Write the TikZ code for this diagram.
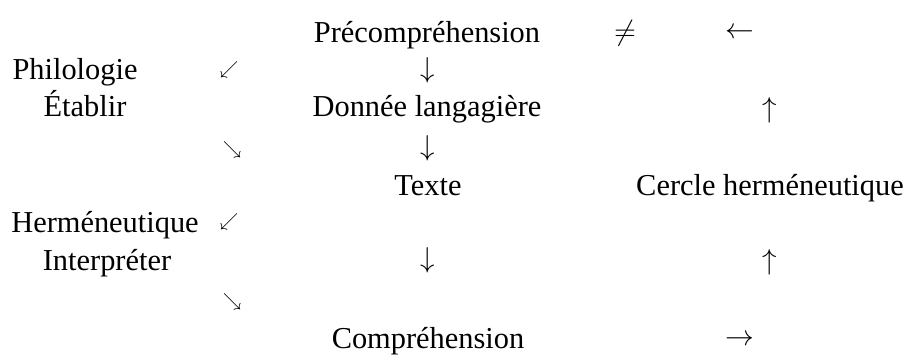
\documentclass[tikz,border=0pt]{standalone}
\usepackage{fontspec}
\setmainfont{Liberation Serif}

\begin{document}
\begin{tikzpicture}[x=0.5pt,y=-0.5pt, every node/.style={inner sep=0pt, font=\fontsize{15.2}{18}\selectfont},
                word/.style = {anchor=base},
                sign/.style = {anchor=center},
                diag/.style = {anchor=center, font=\fontsize{9}{11}\selectfont}]
                \useasboundingbox (0,0) rectangle (904,358);
                % middle column
                \node[word] (1) at (427,43) {Précompréhension};
                \node[sign] (2) at (428,70) {$\downarrow$};
                \node[word] (3) at (427,117) {Donnée langagière};
                \node[sign] (4) at (428,148) {$\downarrow$};
                \node[word] (5) at (428,195) {Texte};
                \node[sign] (6) at (428,260) {$\downarrow$};
                \node[word] (7) at (428,348) {Compréhension};
                % left column
                \node[word] (8) at (75,80) {Philologie};
                \node[word] (9) at (85,117) {Établir};
                \node[word] (10) at (105,232) {Herméneutique};
                \node[word] (11) at (107,270) {Interpréter};
                \node[diag] (12) at (229,70) {$\swarrow$};
                \node[diag] (13) at (232,150) {$\searrow$};
                \node[diag] (14) at (229,222) {$\swarrow$};
                \node[diag] (15) at (232,302) {$\searrow$};
                % right column
                \node[sign] (16) at (625,33) {$\neq$};
                \node[sign] (17) at (740,33) {$\leftarrow$};
                \node[sign] (18) at (770,110) {$\uparrow$};
                \node[word] (19) at (770,195) {Cercle herméneutique};
                \node[sign] (20) at (770,262) {$\uparrow$};
                \node[sign] (21) at (740,340) {$\rightarrow$};
            \end{tikzpicture}
\end{document}
